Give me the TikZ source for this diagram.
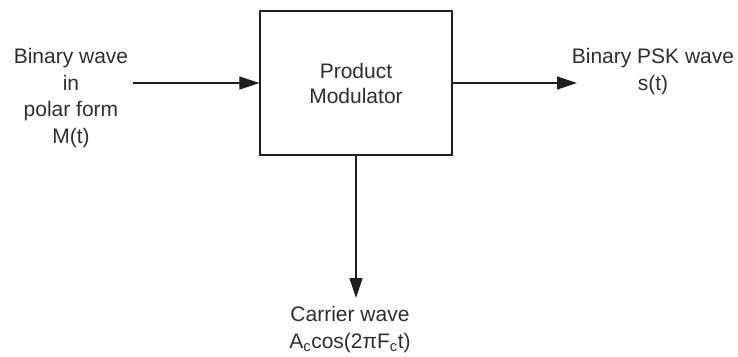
\documentclass[tikz,border=0pt]{standalone}
\usepackage{fontspec}
\setmainfont{Liberation Sans}
\usetikzlibrary{arrows.meta}
\definecolor{txt}{HTML}{2E2E2E}
\definecolor{ln}{HTML}{1E1E1E}
\tikzset{
  lbl/.style={text=txt, align=center, font=\fontsize{21}{26.5}\selectfont, inner sep=0pt, anchor=base},
  blockbox/.style={draw=ln, line width=1.4pt, minimum width=192pt, minimum height=144pt, inner sep=0pt, text=txt, align=center, font=\fontsize{21}{25}\selectfont},
  conn/.style={draw=ln, line width=1.3pt, -{Triangle[length=20pt, width=13pt]}}
}
\begin{document}
\begin{tikzpicture}[x=1pt, y=-1pt]
\useasboundingbox (0,0) rectangle (738,356);
\node[blockbox] (pm) at (356,83) {Product\\Modulator};
\node[lbl] (in) at (71,143) {Binary wave\\in\\polar form\\M(t)};
\node[lbl] (out) at (653,90) {Binary PSK wave\\s(t)};
\node[lbl] (car) at (350,348) {Carrier wave\\A\textsubscript{c}cos(2πF\textsubscript{c}t)};
\coordinate (inS) at (133,83);
\coordinate (outE) at (577,83);
\coordinate (carE) at (356,298);
\draw[conn] (inS) -- (pm.west);
\draw[conn] (pm.east) -- (outE);
\draw[conn] (pm.south) -- (carE);
\end{tikzpicture}
\end{document}
